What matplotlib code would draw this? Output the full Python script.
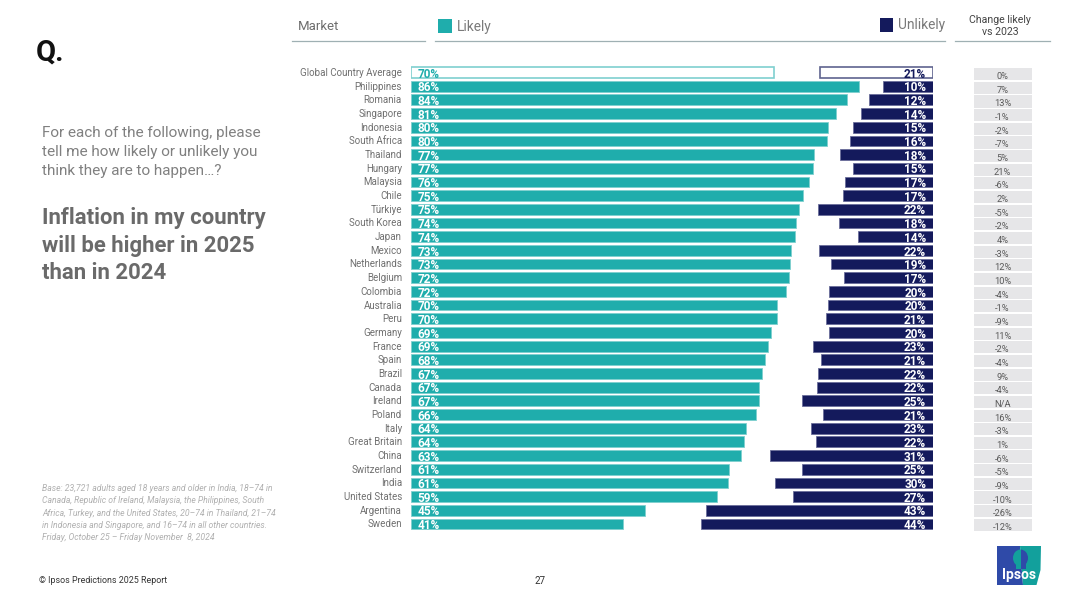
import matplotlib
matplotlib.use("Agg")
import matplotlib.pyplot as plt
from matplotlib.patches import Rectangle, Polygon, Ellipse

plt.rcParams['font.family'] = ['Roboto', 'DejaVu Sans']

markets = ["Global Country Average", "Philippines", "Romania", "Singapore", "Indonesia", "South Africa",
           "Thailand", "Hungary", "Malaysia", "Chile", "Türkiye", "South Korea", "Japan", "Mexico",
           "Netherlands", "Belgium", "Colombia", "Australia", "Peru", "Germany", "France", "Spain",
           "Brazil", "Canada", "Ireland", "Poland", "Italy", "Great Britain", "China", "Switzerland",
           "India", "United States", "Argentina", "Sweden"]
# printed labels
likely = [70, 86, 84, 81, 80, 80, 77, 77, 76, 75, 75, 74, 74, 73, 73, 72, 72, 70, 70, 69, 69, 68,
          67, 67, 67, 66, 64, 64, 63, 61, 61, 59, 45, 41]
unlikely = [21, 10, 12, 14, 15, 16, 18, 15, 17, 17, 22, 18, 14, 22, 19, 17, 20, 20, 21, 20, 23, 21,
            22, 22, 25, 21, 23, 22, 31, 25, 30, 27, 43, 44]
# bar lengths
likely_bar = [69.9, 86.3, 84.0, 81.8, 80.3, 80.1, 77.6, 77.5, 76.7, 75.5, 74.8, 74.2, 74.0, 73.2, 73.0, 72.8,
              72.3, 70.6, 70.6, 69.4, 68.8, 68.2, 67.6, 67.0, 67.0, 66.5, 64.5, 64.2, 63.5, 61.3, 61.1, 59.0,
              45.0, 40.9]
unlikely_bar = [21.4, 9.6, 12.2, 13.7, 15.3, 15.8, 17.6, 15.2, 16.8, 17.2, 21.8, 17.9, 14.3, 21.6, 19.3, 16.9,
                19.7, 19.9, 20.4, 19.7, 22.8, 21.2, 21.9, 22.0, 25.0, 20.9, 23.1, 22.3, 31.0, 25.0, 30.0, 26.7,
                43.2, 44.1]
change = ["0%", "7%", "13%", "-1%", "-2%", "-7%", "5%", "21%", "-6%", "2%", "-5%", "-2%", "4%", "-3%",
          "12%", "10%", "-4%", "-1%", "-9%", "11%", "-2%", "-4%", "9%", "-4%", "N/A", "16%", "-3%", "1%",
          "-6%", "-5%", "-9%", "-10%", "-26%", "-12%"]

TEAL = "#1fadac"
NAVY = "#141a5c"
W, H = 1080, 607
fig = plt.figure(figsize=(W / 100, H / 100), dpi=100, facecolor="white")

def px_axes(x0, y0, x1, y1):
    return fig.add_axes([x0 / W, 1 - y1 / H, (x1 - x0) / W, (y1 - y0) / H])

def ftext(x, y, s, **kw):
    fig.text(x / W, 1 - y / H, s, **kw)

n = len(markets)
rows = list(range(n))
top, bottom = 65.7, 530.8

# Likely bars
ax = px_axes(411, top, 933, bottom)
ax.set_xlim(0, 522 / 5.19)
ax.set_ylim(n - 0.5, -0.5)
ax.axis("off")
ax.patch.set_alpha(0)
for i in rows:
    if i == 0:
        ax.barh(i, likely_bar[i], height=0.76, color="white", edgecolor="#7fd0cf", linewidth=1.2)
        c = TEAL
    else:
        ax.barh(i, likely_bar[i], height=0.79, color=TEAL, edgecolor="#7fd0cf", linewidth=0.6)
        c = "white"
    ax.text(1.2, i + 0.12, f"{likely[i]}%", color=c, fontsize=8.5, fontweight="bold", va="center", ha="left")
    ax.annotate(markets[i], (0, i + 0.03), xytext=(-9, 0), textcoords="offset pixels",
                ha="right", va="center", fontsize=7.0, color="#707070", annotation_clip=False)

# Unlikely bars
ax2 = px_axes(411, top, 933, bottom)
ax2.set_xlim(522 / 5.26, 0)
ax2.set_ylim(n - 0.5, -0.5)
ax2.axis("off")
ax2.patch.set_alpha(0)
for i in rows:
    if i == 0:
        ax2.barh(i, unlikely_bar[i], height=0.76, color="white", edgecolor="#5f638f", linewidth=1.2)
        c = NAVY
    else:
        ax2.barh(i, unlikely_bar[i], height=0.79, color=NAVY, edgecolor="#6a6e9a", linewidth=0.6)
        c = "white"
    ax2.text(1.3, i + 0.12, f"{unlikely[i]}%", color=c, fontsize=8.5, fontweight="bold", va="center", ha="right")

# Change column
ax3 = px_axes(973.5, 67.2, 1031.5, 531.8)
ax3.set_xlim(0, 1)
ax3.set_ylim(n - 0.5, -0.5)
ax3.axis("off")
ax3.barh(rows, [1] * n, height=0.9, color="#e6e6e8", linewidth=0)
for i in rows:
    ax3.text(0.5, i + 0.18, change[i], ha="center", va="center", fontsize=6.7, color="#5a5a5a")

# Header
ftext(298, 26.5, "Market", fontsize=9.5, color="#6e6e6e", va="center", ha="left")
ftext(457, 26.5, "Likely", fontsize=9.9, color="#7a7a7a", va="center", ha="left")
ftext(898, 25.5, "Unlikely", fontsize=9.9, color="#7a7a7a", va="center", ha="left")
ftext(1000, 26, "Change likely\nvs 2023", fontsize=7.6, color="#444444", va="center", ha="center",
      linespacing=1.25)
fig.add_artist(Rectangle((438 / W, 1 - 32.5 / H), 13.5 / W, 13.5 / H, transform=fig.transFigure,
                         facecolor=TEAL, edgecolor="none"))
fig.add_artist(Rectangle((879.5 / W, 1 - 31.5 / H), 13.5 / W, 13.5 / H, transform=fig.transFigure,
                         facecolor=NAVY, edgecolor="none"))
for x0, x1 in [(292, 425), (435, 945), (955, 1050)]:
    fig.add_artist(plt.Line2D([x0 / W, x1 / W], [1 - 41 / H] * 2, color="#9fb0b3", linewidth=0.9,
                              transform=fig.transFigure))

# Left panel
ftext(36, 53, "Q.", fontsize=21, fontweight="bold", color="#111111", va="center", ha="left")
ftext(42, 151.7, "For each of the following, please\ntell me how likely or unlikely you\nthink they are to happen…?",
      fontsize=11.0, color="#808080", va="center", ha="left", linespacing=1.45)
ftext(42, 245.5, "Inflation in my country\nwill be higher in 2025\nthan in 2024",
      fontsize=15.95, fontweight="bold", color="#6a6a6a", va="center", ha="left", linespacing=1.31)
ftext(42, 513, "Base: 23,721 adults aged 18 years and older in India, 18–74 in\n"
               "Canada, Republic of Ireland, Malaysia, the Philippines, South\n"
               "Africa, Turkey, and the United States, 20–74 in Thailand, 21–74\n"
               "in Indonesia and Singapore, and 16–74 in all other countries.\n"
               "Friday, October 25 – Friday November  8, 2024",
      fontsize=6.2, color="#b0b0b0", style="italic", va="center", ha="left", linespacing=1.47)

# Footer
ftext(39, 580.5, "© Ipsos Predictions 2025 Report", fontsize=6.4, color="#333333", va="center", ha="left")
ftext(540, 580.5, "27", fontsize=7, color="#333333", va="center", ha="center")

# Logo
BLUE = "#2f4aa8"
LOGO_TEAL = "#12a09c"
lg = px_axes(997, 546, 1041, 585)
lg.set_xlim(997, 1041)
lg.set_ylim(585, 546)
lg.axis("off")
lg.add_patch(Polygon([(997, 546), (1020, 546), (1023, 585), (997, 585)], facecolor=BLUE, edgecolor="none"))
lg.add_patch(Polygon([(1020, 546), (1041, 546), (1040.5, 570), (1036.5, 585), (1023, 585)],
                     facecolor=LOGO_TEAL, edgecolor="none"))
left_clip = Rectangle((1000, 546), 20.5, 39, transform=lg.transData)
right_clip = Rectangle((1020.5, 546), 20, 39, transform=lg.transData)
for colour, clip in [(LOGO_TEAL, left_clip), (BLUE, right_clip)]:
    head = Ellipse((1020.5, 558), 15, 17, facecolor=colour, edgecolor="none")
    neck = Rectangle((1015.5, 562), 10, 7, facecolor=colour, edgecolor="none")
    for p in (head, neck):
        lg.add_patch(p)
        p.set_clip_path(clip)
lg.text(1019, 575.5, "Ipsos", color="white", fontsize=10, fontweight="bold", ha="center", va="center")

fig.savefig("out.png", dpi=100, facecolor="white")
